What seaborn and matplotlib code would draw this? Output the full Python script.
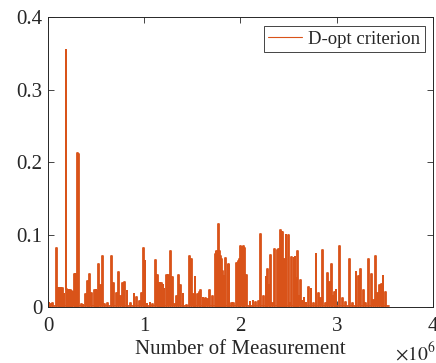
import numpy as np
import pandas as pd
import matplotlib
matplotlib.use("Agg")
import matplotlib.pyplot as plt
import seaborn as sns

# D-opt criterion spikes
# positions are the number of measurement in units of 1e6
spike_pos = [0.01, 0.03, 0.05, 0.085, 0.095,
             0.11, 0.12, 0.13, 0.14, 0.15, 0.166, 0.187, 0.195, 0.205,
             0.215, 0.225, 0.235, 0.245, 0.255, 0.275, 0.285, 0.295, 0.31, 0.32,
             0.345, 0.365, 0.39, 0.41, 0.42, 0.43, 0.45, 0.48, 0.49, 0.50, 0.51,
             0.525, 0.546, 0.567, 0.59, 0.62, 0.66, 0.684, 0.712, 0.73, 0.753,
             0.774, 0.783, 0.792, 0.80, 0.822, 0.86, 0.895, 0.919, 0.953, 0.971,
             0.99, 0.997, 1.008, 1.03, 1.06, 1.09, 1.115, 1.137, 1.15, 1.16, 1.17,
             1.18, 1.195, 1.206, 1.23, 1.25, 1.27, 1.292, 1.316, 1.333, 1.354,
             1.381, 1.402, 1.437, 1.47, 1.492, 1.513, 1.527, 1.554, 1.575, 1.585,
             1.61, 1.625, 1.64, 1.655, 1.679, 1.707, 1.738, 1.748, 1.755, 1.762,
             1.769, 1.78, 1.79, 1.80, 1.81, 1.822, 1.834, 1.842, 1.872, 1.878,
             1.903, 1.93, 1.96, 1.983, 1.99, 2.0, 2.024, 2.032, 2.04, 2.048,
             2.059, 2.1, 2.13, 2.16, 2.19, 2.21, 2.24, 2.265, 2.283, 2.3, 2.315,
             2.332, 2.355, 2.383, 2.393, 2.404, 2.418, 2.43, 2.437, 2.449, 2.46,
             2.473, 2.5, 2.507, 2.53, 2.556, 2.566, 2.577, 2.59, 2.604, 2.62,
             2.639, 2.66, 2.68, 2.71, 2.733, 2.757, 2.785, 2.81, 2.83, 2.853, 2.88,
             2.905, 2.929, 2.945, 2.957, 2.975, 2.992, 3.026, 3.06, 3.095, 3.13,
             3.164, 3.2, 3.226, 3.25, 3.275, 3.302, 3.33, 3.36, 3.382, 3.40,
             3.423, 3.445, 3.464, 3.482, 3.51, 3.54]
spike_val = [0.005, 0.004, 0.006, 0.081, 0.080,
             0.026, 0.027, 0.026, 0.025, 0.027, 0.018, 0.355, 0.025, 0.024,
             0.023, 0.022, 0.023, 0.022, 0.021, 0.046, 0.046, 0.045, 0.213, 0.212,
             0.004, 0.003, 0.018, 0.036, 0.035, 0.046, 0.020, 0.023, 0.022, 0.023,
             0.022, 0.059, 0.030, 0.070, 0.004, 0.005, 0.070, 0.033, 0.020, 0.049,
             0.015, 0.033, 0.032, 0.034, 0.031, 0.022, 0.005, 0.018, 0.014, 0.008,
             0.020, 0.081, 0.078, 0.064, 0.004, 0.005, 0.004, 0.065, 0.044, 0.033,
             0.033, 0.032, 0.033, 0.030, 0.025, 0.044, 0.045, 0.077, 0.042, 0.004,
             0.016, 0.044, 0.030, 0.018, 0.003, 0.071, 0.066, 0.018, 0.042, 0.018,
             0.021, 0.023, 0.012, 0.011, 0.013, 0.011, 0.023, 0.015, 0.074, 0.076,
             0.078, 0.060, 0.115, 0.077, 0.070, 0.066, 0.050, 0.043, 0.040, 0.068,
             0.060, 0.058, 0.005, 0.006, 0.061, 0.063, 0.066, 0.084, 0.083, 0.084,
             0.082, 0.074, 0.045, 0.007, 0.009, 0.007, 0.008, 0.101, 0.015, 0.041,
             0.053, 0.030, 0.072, 0.005, 0.080, 0.079, 0.080, 0.050, 0.106, 0.104,
             0.104, 0.060, 0.066, 0.100, 0.099, 0.006, 0.069, 0.068, 0.069, 0.040,
             0.077, 0.015, 0.038, 0.008, 0.012, 0.006, 0.028, 0.025, 0.005, 0.074,
             0.020, 0.012, 0.079, 0.006, 0.047, 0.035, 0.060, 0.015, 0.021, 0.023,
             0.084, 0.012, 0.007, 0.066, 0.005, 0.048, 0.043, 0.053, 0.023, 0.006,
             0.066, 0.046, 0.010, 0.070, 0.020, 0.031, 0.032, 0.043, 0.021]
floor_val = 0.002
data_end = 3.545
half_w = 0.004

x_ticks = [0, 1, 2, 3, 4]
x_labels = ["0", "1", "2", "3", "4"]
y_ticks = [0, 0.1, 0.2, 0.3, 0.4]
y_labels = ["0", "0.1", "0.2", "0.3", "0.4"]

# build the line: a narrow plateau at each spike value, back to the floor between
xs, ys = [0.0], [floor_val]
for p, v in zip(spike_pos, spike_val):
    xs += [p - half_w, p - half_w, p + half_w, p + half_w]
    ys += [floor_val, v, v, floor_val]
xs.append(data_end)
ys.append(floor_val)
df = pd.DataFrame({"meas": xs, "dopt": ys})

sns.set_theme(style="ticks")
plt.rcParams["font.family"] = ["Liberation Serif", "DejaVu Serif"]
plt.rcParams["mathtext.fontset"] = "stix"

fig = plt.figure(figsize=(4.36, 3.63), dpi=100)
ax = fig.add_axes([0.110, 0.154, 0.883, 0.798])

sns.lineplot(data=df, x="meas", y="dopt", estimator=None, sort=False,
             color="#D95319", linewidth=1.3, label="D-opt criterion", ax=ax)

ax.set_xlim(0, 4)
ax.set_ylim(0, 0.4)
ax.set_xticks(x_ticks)
ax.set_xticklabels(x_labels)
ax.set_yticks(y_ticks)
ax.set_yticklabels(y_labels)
ax.set_ylabel("")
ax.set_xlabel("Number of Measurement", fontsize=15, color="#262626", labelpad=3)

ax.tick_params(direction="in", top=True, right=True, length=4, width=0.6,
               labelsize=15, colors="#262626")
ax.tick_params(axis="x", pad=7)
ax.tick_params(axis="y", pad=4)
for s in ax.spines.values():
    s.set_visible(True)
    s.set_linewidth(0.7)
    s.set_color("#262626")

leg = ax.legend(loc="upper right", frameon=True, fancybox=False,
                edgecolor="#262626", framealpha=1, fontsize=13.5,
                handlelength=1.8, handletextpad=0.3, borderaxespad=0.45,
                borderpad=0.25)
leg.get_frame().set_linewidth(0.6)
leg.get_lines()[0].set_linewidth(0.8)

fig.text(0.905, 0.008, r"$\times10^{6}$", fontsize=14, color="#262626",
         ha="left", va="baseline")

fig.savefig("out.png", dpi=100)
